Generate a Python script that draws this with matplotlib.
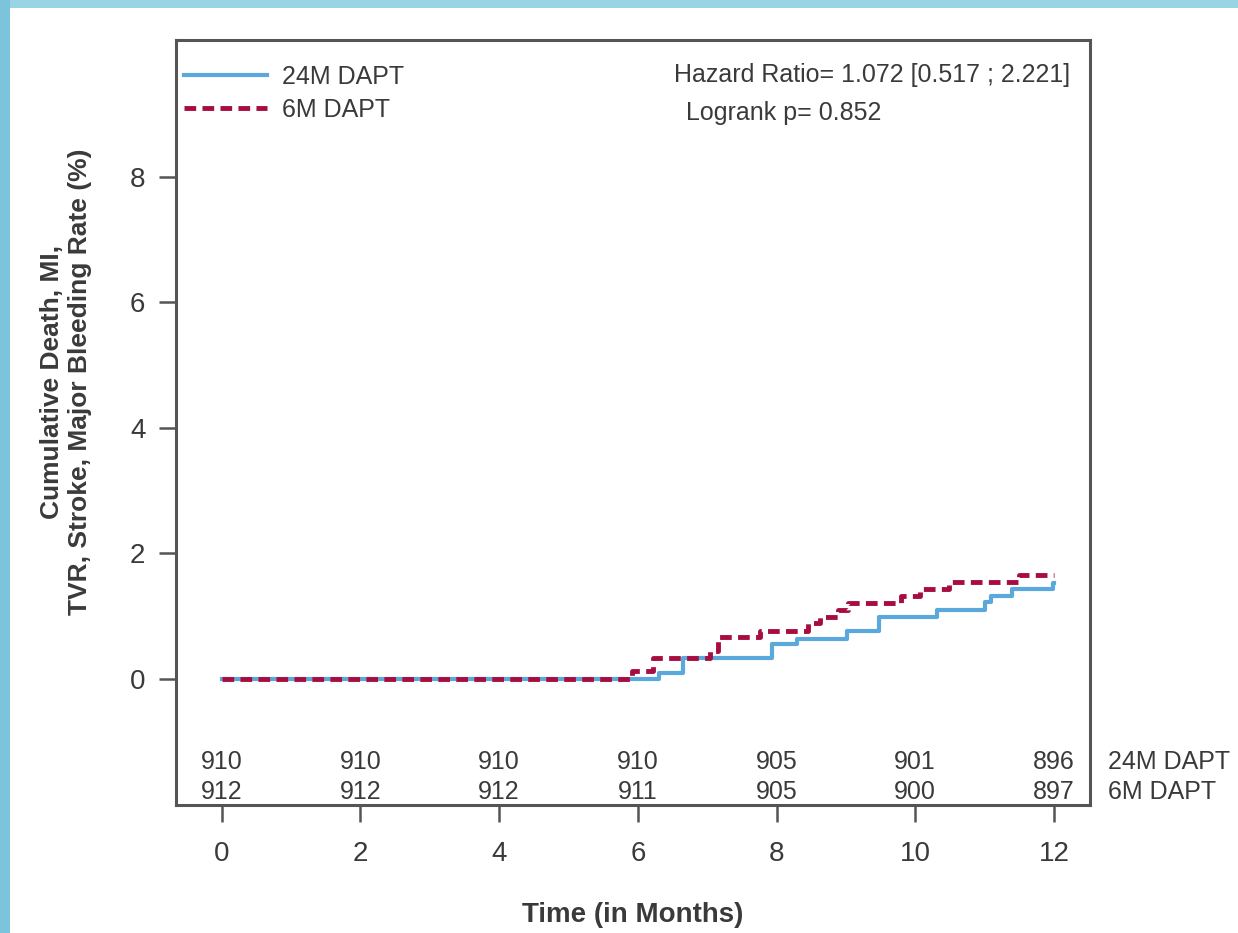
#!/usr/bin/env python3
"""Kaplan-Meier style cumulative event curves, 24M vs 6M DAPT."""
import numpy as np
import matplotlib
matplotlib.use("Agg")
import matplotlib.pyplot as plt
from matplotlib.patches import Rectangle

plt.rcParams["font.family"] = ["Liberation Sans", "DejaVu Sans"]

# step curves (month, cumulative %)
t_24m = [0, 6.30, 6.65, 7.94, 8.29, 9.02, 9.48, 10.32, 11.00, 11.09, 11.39, 11.99]
y_24m = [0, 0.10, 0.33, 0.56, 0.64, 0.77, 0.99, 1.10, 1.23, 1.32, 1.43, 1.53]
t_6m = [0, 5.92, 6.22, 7.04, 7.16, 7.76, 8.46, 8.63, 8.89, 9.03, 9.80, 10.07, 10.49, 11.49]
y_6m = [0, 0.12, 0.33, 0.45, 0.66, 0.77, 0.89, 0.98, 1.10, 1.21, 1.32, 1.43, 1.54, 1.66]
t_end = 12.0

risk_months = [0, 2, 4, 6, 8, 10, 12]
risk_24m = [910, 910, 910, 910, 905, 901, 896]
risk_6m = [912, 912, 912, 911, 905, 900, 897]

BLUE = "#5ba8dd"
RED = "#a70d3f"
TXT = "#3a3a3a"

fig = plt.figure(figsize=(12.38, 9.33), dpi=100)
# light blue frame on top/left
fig.add_artist(Rectangle((0, 1 - 8 / 933), 1, 8 / 933, transform=fig.transFigure,
                         color="#98d4e3", lw=0))
fig.add_artist(Rectangle((0, 0), 10 / 1238, 1, transform=fig.transFigure,
                         color="#7cc4dc", lw=0))

ax = fig.add_axes([176 / 1238, 1 - 805 / 933, 914 / 1238, 765 / 933])
ax.step(t_24m + [t_end], y_24m + [y_24m[-1]], where="post", color=BLUE, lw=3,
        label="24M DAPT", zorder=3)
ax.step(t_6m + [t_end], y_6m + [y_6m[-1]], where="post", color=RED, lw=3.5,
        ls=(0, (2.4, 1.3)), label="6M DAPT", zorder=4)

ax.set_xlim(-0.66, 12.52)
ax.set_ylim(-2.01, 10.18)
ax.set_xticks(risk_months)
ax.set_yticks([0, 2, 4, 6, 8])
ax.tick_params(axis="both", direction="out", length=12, width=1.8, color="#555555",
               labelsize=20, labelcolor=TXT)
ax.tick_params(axis="x", pad=14)
ax.tick_params(axis="y", pad=10)
for s in ax.spines.values():
    s.set_color("#555555")
    s.set_linewidth(2.2)

for m, a, b in zip(risk_months, risk_24m, risk_6m):
    ax.text(m, -1.32, str(a), ha="center", va="center", fontsize=18, color=TXT)
    ax.text(m, -1.80, str(b), ha="center", va="center", fontsize=18, color=TXT)
ax.text(12.78, -1.32, "24M DAPT", ha="left", va="center", fontsize=18, color=TXT, clip_on=False)
ax.text(12.78, -1.80, "6M DAPT", ha="left", va="center", fontsize=18, color=TXT, clip_on=False)

ax.text(0.978, 0.954, "Hazard Ratio= 1.072 [0.517 ; 2.221]", transform=ax.transAxes,
        ha="right", va="center", fontsize=18, color=TXT)
ax.text(0.665, 0.904, "Logrank p= 0.852", transform=ax.transAxes,
        ha="center", va="center", fontsize=18, color=TXT)

leg = ax.legend(loc="upper left", bbox_to_anchor=(-0.01, 0.99), frameon=False,
                fontsize=18, handlelength=3.3, handletextpad=0.6, labelspacing=0.35,
                borderaxespad=0.3)
for t in leg.get_texts():
    t.set_color(TXT)

ax.set_xlabel("Time (in Months)", fontsize=20, fontweight="bold", color=TXT, labelpad=25)
ax.set_ylabel("Cumulative Death, MI,\nTVR, Stroke, Major Bleeding Rate (%)", fontsize=19,
              fontweight="bold", color=TXT)
ax.yaxis.set_label_coords(-0.092, 0.553)

fig.savefig("out.png", dpi=100)
